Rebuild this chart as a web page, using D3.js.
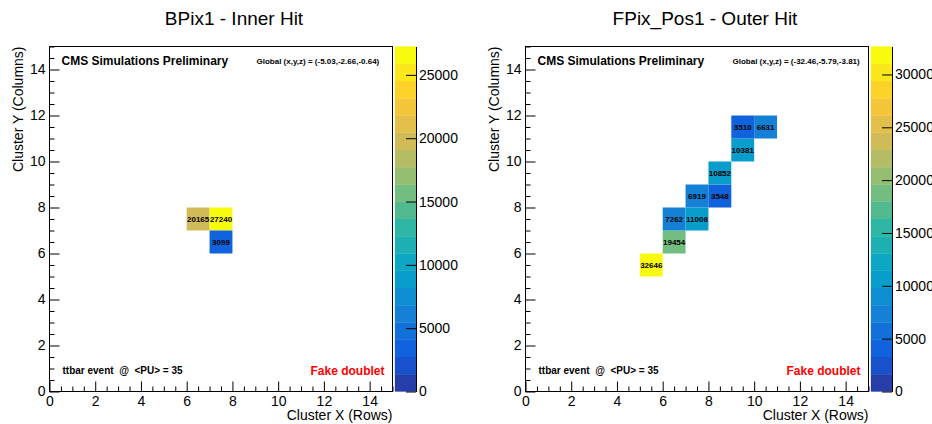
<!DOCTYPE html>
<html><head><meta charset="utf-8">
<script src="https://cdn.jsdelivr.net/npm/d3@7"></script>
<style>
body{margin:0;background:#fff}
text{font-family:"Liberation Sans",Arial,Helvetica,sans-serif}
</style>
</head><body><svg id="c" width="932" height="424"></svg>
<script>
// ---- data ----
const titles = ["BPix1 - Inner Hit", "FPix_Pos1 - Outer Hit"];
const globalLabels = ["Global (x,y,z) = (-5.03,-2.66,-0.64)", "Global (x,y,z) = (-32.46,-5.79,-3.81)"];
const cmsLabel = "CMS Simulations Preliminary";
const eventLabel = "ttbar event  @  <PU> = 35";
const statusLabel = "Fake doublet";
const xTitle = "Cluster X (Rows)";
const yTitle = "Cluster Y (Columns)";

const innerX = [6, 7, 7];
const innerY = [7, 7, 6];
const innerVal = [20165, 27240, 3099];

const outerX = [5, 6, 6, 7, 7, 8, 8, 9, 9, 10];
const outerY = [5, 6, 7, 7, 8, 8, 9, 10, 11, 11];
const outerVal = [32646, 19454, 7262, 11008, 6919, 3548, 10852, 10381, 3510, 6631];

const axisTicks = [0, 2, 4, 6, 8, 10, 12, 14];
const innerZTicks = [0, 5000, 10000, 15000, 20000, 25000];
const outerZTicks = [0, 5000, 10000, 15000, 20000, 25000, 30000];

// ROOT kBird palette stops
const birdStops = [0, 0.125, 0.25, 0.375, 0.5, 0.625, 0.75, 0.875, 1];
const birdR = [0.2082, 0.0592, 0.0780, 0.0232, 0.1802, 0.5301, 0.8186, 0.9956, 0.9764];
const birdG = [0.1664, 0.3599, 0.5041, 0.6419, 0.7178, 0.7492, 0.7328, 0.7862, 0.9832];
const birdB = [0.5293, 0.8684, 0.8385, 0.7914, 0.6425, 0.4662, 0.3499, 0.1968, 0.0539];

// ---- palette ----
const NCOL = 255, NDIV = 20;
const rS = d3.scaleLinear().domain(birdStops).range(birdR);
const gS = d3.scaleLinear().domain(birdStops).range(birdG);
const bS = d3.scaleLinear().domain(birdStops).range(birdB);
function levelColor(level) {
  const idx = Math.floor((level + 0.99) * NCOL / NDIV);
  const t = Math.min(1, idx / (NCOL - 1));
  return d3.rgb(rS(t) * 255, gS(t) * 255, bS(t) * 255).toString();
}

const svg = d3.select("#c");

const panels = [
  {ox: 0, xs: innerX, ys: innerY, vs: innerVal, zt: innerZTicks, title: titles[0], glob: globalLabels[0], tcx: 234},
  {ox: 476, xs: outerX, ys: outerY, vs: outerVal, zt: outerZTicks, title: titles[1], glob: globalLabels[1], tcx: 705}
];

panels.forEach(p => {
  const fl = 49.5 + p.ox, fr = 392.5 + p.ox, ft = 46.5, fb = 391.5;
  const x = d3.scaleLinear().domain([0, 15]).range([fl, fr]);
  const y = d3.scaleLinear().domain([0, 15]).range([fb, ft]);
  const zmax = d3.max(p.vs);
  const zLev = d3.scaleLinear().domain([0, zmax]).range([0, NDIV]);
  const g = svg.append("g");

  // title
  g.append("text").attr("x", p.tcx).attr("y", 25).attr("text-anchor", "middle")
    .attr("font-size", 19).text(p.title);

  // cells
  const cells = p.vs.map((v, i) => ({x: p.xs[i], y: p.ys[i], v}));
  g.selectAll("rect.cell").data(cells).enter().append("rect")
    .attr("x", d => x(d.x)).attr("y", d => y(d.y + 1))
    .attr("width", d => x(d.x + 1) - x(d.x)).attr("height", d => y(d.y) - y(d.y + 1))
    .attr("fill", d => levelColor(Math.min(NDIV - 1, Math.floor(zLev(d.v)))));
  g.selectAll("text.cv").data(cells).enter().append("text")
    .attr("x", d => x(d.x + 0.5)).attr("y", d => y(d.y + 0.5)).attr("dy", "0.35em")
    .attr("text-anchor", "middle").attr("font-size", 8).attr("font-weight", "bold")
    .text(d => d.v);

  // minor ticks
  const minor = d3.range(0, 15.001, 0.5).filter(v => v % 2 !== 0);
  g.append("g").attr("transform", `translate(0,${fb})`)
    .call(d3.axisBottom(x).tickValues(minor).tickSizeInner(-5).tickSizeOuter(0).tickFormat(""))
    .call(a => a.select(".domain").remove());
  g.append("g").attr("transform", `translate(${fl},0)`)
    .call(d3.axisLeft(y).tickValues(minor).tickSizeInner(-5).tickSizeOuter(0).tickFormat(""))
    .call(a => a.select(".domain").remove());
  // major ticks + labels
  const xa = g.append("g").attr("transform", `translate(0,${fb})`)
    .call(d3.axisBottom(x).tickValues(axisTicks).tickSizeInner(-10).tickSizeOuter(0).tickPadding(5));
  const ya = g.append("g").attr("transform", `translate(${fl},0)`)
    .call(d3.axisLeft(y).tickValues(axisTicks).tickSizeInner(-10).tickSizeOuter(0).tickPadding(4));
  [xa, ya].forEach(a => {
    a.select(".domain").remove();
    a.selectAll("text").attr("font-size", 14).attr("font-family", '"Liberation Sans",Arial,sans-serif').attr("fill", "#000");
  });
  g.selectAll(".tick line").attr("stroke", "#000");

  // frame
  g.append("rect").attr("x", fl).attr("y", ft).attr("width", fr - fl).attr("height", fb - ft)
    .attr("fill", "none").attr("stroke", "#000").attr("stroke-width", 1);

  // axis titles
  g.append("text").attr("x", fr).attr("y", 420).attr("text-anchor", "end")
    .attr("font-size", 14).text(xTitle);
  g.append("text").attr("transform", `translate(${22.5 + p.ox},${ft}) rotate(-90)`)
    .attr("text-anchor", "end").attr("font-size", 14).text(yTitle);

  // labels in frame
  g.append("text").attr("x", fl + 12).attr("y", 65).attr("font-size", 12).attr("font-weight", "bold").text(cmsLabel);
  g.append("text").attr("x", fl + 207).attr("y", 64).attr("font-size", 8).attr("font-weight", "bold").text(p.glob);
  g.append("text").attr("x", fl + 13).attr("y", 374).attr("font-size", 10).attr("font-weight", "bold")
    .style("white-space", "pre").text(eventLabel);
  g.append("text").attr("x", fr - 8).attr("y", 375).attr("text-anchor", "end").attr("font-size", 12)
    .attr("font-weight", "bold").attr("fill", "#ff0000").text(statusLabel);

  // colour bar
  const cbl = fr + 2.5, cbr = fr + 23.5;
  const z = d3.scaleLinear().domain([0, zmax]).range([fb, ft]);
  const bands = d3.range(NDIV);
  g.selectAll("rect.band").data(bands).enter().append("rect")
    .attr("x", cbl).attr("width", cbr - cbl)
    .attr("y", i => z((i + 1) * zmax / NDIV)).attr("height", i => z(i * zmax / NDIV) - z((i + 1) * zmax / NDIV))
    .attr("fill", i => levelColor(i)).attr("stroke", i => levelColor(i)).attr("stroke-width", 0.3);
  const za = g.append("g").attr("transform", `translate(${cbr},0)`)
    .call(d3.axisRight(z).tickValues(p.zt).tickSizeInner(-10).tickSizeOuter(0).tickPadding(3).tickFormat(d3.format("d")));
  za.select(".domain").attr("stroke", "#000");
  za.selectAll("line").attr("stroke", "#000");
  za.selectAll("text").attr("font-size", 14).attr("font-family", '"Liberation Sans",Arial,sans-serif').attr("fill", "#000");
});
</script>
</body></html>
